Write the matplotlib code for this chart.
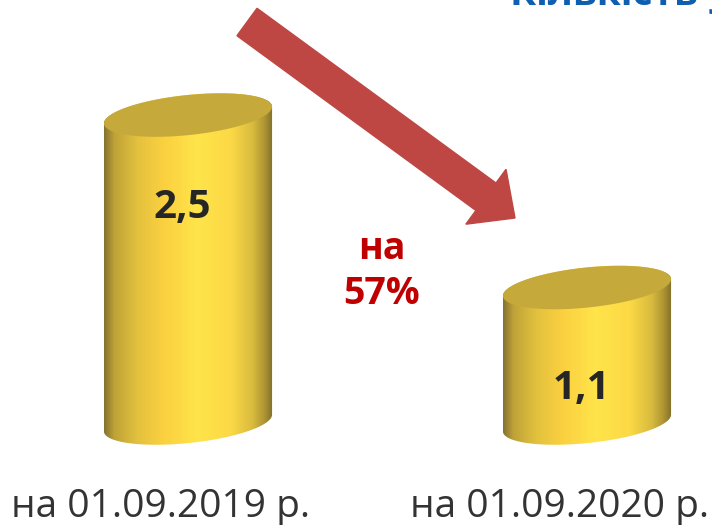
import numpy as np
import matplotlib
matplotlib.use("Agg")
import matplotlib.pyplot as plt
import matplotlib.patches as mpatches
from matplotlib.colors import LinearSegmentedColormap
from matplotlib.transforms import ScaledTranslation

# data
dates = ["на 01.09.2019 р.", "на 01.09.2020 р."]
values = [2.5, 1.1]
value_labels = ["2,5", "1,1"]
change_label = "на\n57%"
title = "Кількість учасників"

plt.rcParams['font.family'] = ['Open Sans', 'DejaVu Sans']

fig = plt.figure(figsize=(7.12, 5.25), dpi=100)
ax = fig.add_axes([0, 0, 1, 1])
ax.set_xlim(-0.4712, 1.3133)
ax.set_ylim(-0.828, 3.434)
ax.axis('off')

body_cmap = LinearSegmentedColormap.from_list("cyl", [
    (0.0, "#857230"), (0.06, "#bfa238"), (0.2, "#e3c23e"), (0.35, "#fbd040"),
    (0.55, "#ffe44a"), (0.75, "#fcd946"), (0.88, "#d9bc3e"), (0.95, "#b09534"),
    (1.0, "#80702a")])
top_color = "#c6a93b"

ell_w, ell_h, ell_ang = 1.69, 0.40, 6   # ellipse size in inches
grad = np.linspace(0, 1, 256).reshape(1, -1)
theta = np.linspace(0, 2 * np.pi, 240, endpoint=False)
unit = np.column_stack([np.cos(theta), np.sin(theta)])


def ellipse_display(xi, v):
    """Ellipse outline (display pixels) centred on data point (xi, v)."""
    e = mpatches.Ellipse((0, 0), ell_w, ell_h, angle=ell_ang)
    t = e.get_patch_transform() + fig.dpi_scale_trans + ScaledTranslation(xi, v, ax.transData)
    return t.transform(unit)


def hull(pts):
    pts = sorted(map(tuple, pts))
    def cross(o, a, b):
        return (a[0] - o[0]) * (b[1] - o[1]) - (a[1] - o[1]) * (b[0] - o[0])
    lower, upper = [], []
    for p in pts:
        while len(lower) >= 2 and cross(lower[-2], lower[-1], p) <= 0:
            lower.pop()
        lower.append(p)
    for p in reversed(pts):
        while len(upper) >= 2 and cross(upper[-2], upper[-1], p) <= 0:
            upper.pop()
        upper.append(p)
    return np.array(lower[:-1] + upper[:-1])


x = np.arange(len(values))
to_data = ax.transData.inverted()
for xi, v in zip(x, values):
    top_pts = ellipse_display(xi, v)
    bot_pts = ellipse_display(xi, 0)
    body = to_data.transform(hull(np.vstack([top_pts, bot_pts])))
    body_patch = mpatches.Polygon(body, closed=True, facecolor='none', edgecolor='none')
    ax.add_patch(body_patch)
    bx0, bx1 = body[:, 0].min(), body[:, 0].max()
    by0, by1 = body[:, 1].min(), body[:, 1].max()
    im = ax.imshow(grad, cmap=body_cmap, aspect='auto', extent=[bx0, bx1, by0, by1],
                   interpolation='bilinear', zorder=2)
    im.set_clip_path(body_patch)
    top = mpatches.Polygon(to_data.transform(top_pts), closed=True,
                           facecolor=top_color, edgecolor='none', zorder=3)
    ax.add_patch(top)

# value labels inside cylinders
label_y = [1.75, 0.28]
for xi, ly, t in zip(x, label_y, value_labels):
    ax.text(xi - 0.015, ly, t, ha='center', va='center', fontsize=29,
            fontweight='bold', color='#262626', zorder=4)

# category labels
for xi, t in zip(x, dates):
    ax.text(xi - 0.07, -0.765, t, ha='center', va='baseline', fontsize=28,
            color='#333333')

# change annotation
ax.text(0.486, 1.23, change_label, ha='center', va='center', fontsize=27,
        fontweight='bold', color='#c00000', linespacing=1.24)

# red arrow (inches)
arrow = mpatches.FancyArrow(2.47, 5.03, 2.68, -1.96, width=0.34, head_width=0.68,
                            head_length=0.36, length_includes_head=True,
                            color='#be4744', transform=fig.dpi_scale_trans, zorder=5)
fig.patches.append(arrow)

# clipped title at top right
fig.text(510 / 712, 1 - 5 / 525, title, ha='left', va='baseline', fontsize=28,
         fontweight='bold', color='#0f5fb0')

fig.savefig("out.png", dpi=100)
